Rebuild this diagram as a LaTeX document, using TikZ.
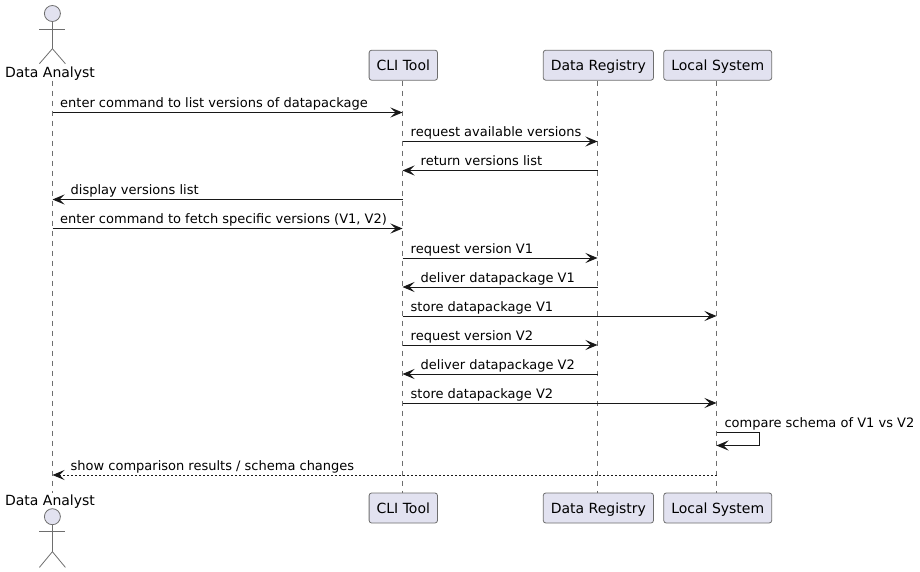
\documentclass[tikz,border=0pt]{standalone}
\usepackage{fontspec}
\setmainfont{DejaVu Sans}
\usetikzlibrary{positioning,arrows.meta}
\definecolor{partfill}{HTML}{E2E2F0}
\definecolor{inkline}{HTML}{181818}
\definecolor{thinline}{HTML}{6E6E6E}

\begin{document}
\begin{tikzpicture}[
		x=1pt, y=-1pt,
		every node/.style={font=\fontsize{13pt}{15pt}\selectfont, text=black},
		>={Stealth[length=12pt,width=10pt,inset=5pt]},
		partbox/.style={font=\fontsize{14pt}{16pt}\selectfont, draw=thinline, fill=partfill, line width=.8pt, rounded corners=2.5pt, minimum height=30pt, inner xsep=7.5pt, inner ysep=0pt, text height=12pt, text depth=2pt},
		actorhead/.style={circle, draw=thinline, fill=partfill, line width=.8pt, minimum size=16pt, inner sep=0pt},
		actorline/.style={draw=thinline, line width=.8pt},
		actorname/.style={font=\fontsize{14pt}{16pt}\selectfont, anchor=base, inner sep=0pt},
		lifeline/.style={draw=thinline, line width=.8pt, dash pattern=on 5pt off 5pt},
		msg/.style={draw=inkline, line width=1pt, ->},
		msgback/.style={msg, dash pattern=on 2pt off 2pt},
		msgtext/.style={anchor=base west, inner sep=0pt}
		]
		\useasboundingbox (0,0) rectangle (920,572);
		
		% Lifelines go first, the names lie over them
		\coordinate (anaL) at (52.5,0);
		\coordinate (cliL) at (402.5,0);
		\coordinate (regL) at (597.5,0);
		\coordinate (locL) at (716.5,0);
		
		% Participants on top
		\node[partbox] (cliT) at (403.3,65.2) {CLI Tool};
		\node[partbox, right=105pt of cliT] (regT) {Data Registry};
		\node[partbox, right=9.5pt of regT] (locT) {Local System};
		
		% Participants below
		\node[partbox, below=412pt of cliT] (cliB) {CLI Tool};
		\node[partbox, below=412pt of regT] (regB) {Data Registry};
		\node[partbox, below=412pt of locT] (locB) {Local System};
		
		\draw[lifeline] (anaL |- cliT.south) -- (anaL |- cliB.north);
		\draw[lifeline] (cliL |- cliT.south) -- (cliL |- cliB.north);
		\draw[lifeline] (regL |- regT.south) -- (regL |- regB.north);
		\draw[lifeline] (locL |- locT.south) -- (locL |- locB.north);
		
		% Actor on top
		\node[actorhead] (headT) at (52.4,13.5) {};
		\draw[actorline] (headT.south) -- ++(0,26.8) -- ++(-13,15);
		\draw[actorline] (headT.south) ++(0,26.8) -- ++(13,15);
		\draw[actorline] (39.4,29.3) -- (65.4,29.3);
		\node[actorname] (nameT) at (50,77.5) {Data Analyst};
		
		% Actor below
		\node[actorname] (nameB) at (50,505) {Data Analyst};
		\node[actorhead] (headB) at (52.4,516.7) {};
		\draw[actorline] (headB.south) -- ++(0,26.6) -- ++(-13,15.7);
		\draw[actorline] (headB.south) ++(0,26.6) -- ++(13,15.7);
		\draw[actorline] (39.4,531.7) -- (65.4,531.7);
		
		% Message heights
		\coordinate (m1) at (0,112.5);
		\coordinate (m2) at (0,141.5);
		\coordinate (m3) at (0,170.5);
		\coordinate (m4) at (0,199.5);
		\coordinate (m5) at (0,228.5);
		\coordinate (m6) at (0,258);
		\coordinate (m7) at (0,287);
		\coordinate (m8) at (0,316);
		\coordinate (m9) at (0,345);
		\coordinate (m10) at (0,374);
		\coordinate (m11) at (0,403);
		\coordinate (m12) at (0,432.5);
		\coordinate (m13) at (0,445.5);
		\coordinate (m14) at (0,475);
		\coordinate (selfR) at (759.5,0);
		
		% Arrows
		\draw[msg] (anaL |- m1) -- (cliL |- m1);
		\draw[msg] (cliL |- m2) -- (regL |- m2);
		\draw[msg] (regL |- m3) -- (cliL |- m3);
		\draw[msg] (cliL |- m4) -- (anaL |- m4);
		\draw[msg] (anaL |- m5) -- (cliL |- m5);
		\draw[msg] (cliL |- m6) -- (regL |- m6);
		\draw[msg] (regL |- m7) -- (cliL |- m7);
		\draw[msg] (cliL |- m8) -- (locL |- m8);
		\draw[msg] (cliL |- m9) -- (regL |- m9);
		\draw[msg] (regL |- m10) -- (cliL |- m10);
		\draw[msg] (cliL |- m11) -- (locL |- m11);
		\draw[msg] (locL |- m12) -- (selfR |- m12) -- (selfR |- m13) -- (locL |- m13);
		\draw[msgback] (locL |- m14) -- (anaL |- m14);
		
		% Labels of the arrows
		\node[msgtext] (t1) at ([xshift=7.5pt,yshift=5pt]anaL |- m1) {enter command to list versions of datapackage};
		\node[msgtext] (t2) at ([xshift=8pt,yshift=5pt]cliL |- m2) {request available versions};
		\node[msgtext] (t3) at ([xshift=18pt,yshift=5pt]cliL |- m3) {return versions list};
		\node[msgtext] (t4) at ([xshift=18pt,yshift=5pt]anaL |- m4) {display versions list};
		\node[msgtext] (t5) at ([xshift=7.5pt,yshift=5pt]anaL |- m5) {enter command to fetch specific versions (V1, V2)};
		\node[msgtext] (t6) at ([xshift=8pt,yshift=5pt]cliL |- m6) {request version V1};
		\node[msgtext] (t7) at ([xshift=18pt,yshift=5pt]cliL |- m7) {deliver datapackage V1};
		\node[msgtext] (t8) at ([xshift=8pt,yshift=5pt]cliL |- m8) {store datapackage V1};
		\node[msgtext] (t9) at ([xshift=8pt,yshift=5pt]cliL |- m9) {request version V2};
		\node[msgtext] (t10) at ([xshift=18pt,yshift=5pt]cliL |- m10) {deliver datapackage V2};
		\node[msgtext] (t11) at ([xshift=8pt,yshift=5pt]cliL |- m11) {store datapackage V2};
		\node[msgtext] (t12) at ([xshift=7.8pt,yshift=5pt]locL |- m12) {compare schema of V1 vs V2};
		\node[msgtext] (t14) at ([xshift=18pt,yshift=5pt]anaL |- m14) {show comparison results / schema changes};
	\end{tikzpicture}
\end{document}
